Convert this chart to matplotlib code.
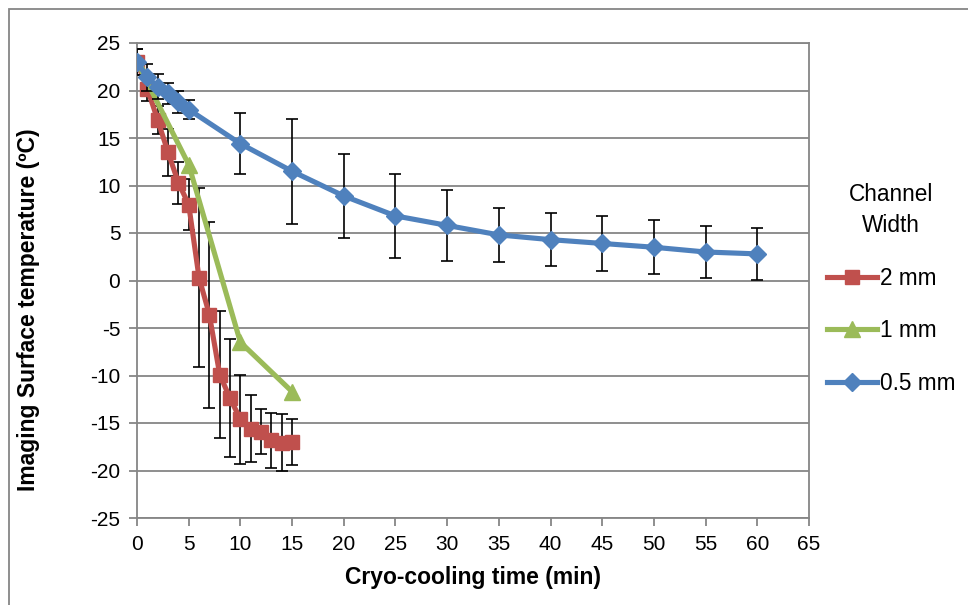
import matplotlib
matplotlib.use("Agg")
import matplotlib.pyplot as plt
from matplotlib.patches import Rectangle

plt.rcParams['font.family'] = ['Liberation Sans', 'DejaVu Sans']
plt.rcParams['axes.unicode_minus'] = False

# 2 mm channel
t_2mm = [0, 1, 2, 3, 4, 5, 6, 7, 8, 9, 10, 11, 12, 13, 14, 15]
T_2mm = [23.0, 20.2, 16.9, 13.5, 10.3, 8.0, 0.3, -3.6, -9.9, -12.4, -14.6, -15.6, -15.9, -16.8, -17.1, -17.0]
E_2mm = [1.4, 1.3, 1.5, 2.5, 2.2, 2.7, 9.4, 9.8, 6.7, 6.2, 4.7, 3.5, 2.4, 2.9, 3.0, 2.4]

# 1 mm channel
t_1mm = [0, 5, 10, 15]
T_1mm = [23.0, 12.2, -6.5, -11.7]

# 0.5 mm channel
t_05mm = [0, 1, 2, 3, 4, 5, 10, 15, 20, 25, 30, 35, 40, 45, 50, 55, 60]
T_05mm = [23.0, 21.4, 20.4, 19.7, 18.8, 18.0, 14.4, 11.5, 8.9, 6.8, 5.8, 4.8, 4.3, 3.9, 3.5, 3.0, 2.8]
E_05mm = [1.4, 1.4, 1.3, 1.1, 1.2, 1.0, 3.2, 5.5, 4.4, 4.4, 3.7, 2.85, 2.8, 2.85, 2.85, 2.75, 2.75]

labels = ['2 mm', '1 mm', '0.5 mm']
colors = ['#C0504D', '#9BBB59', '#4F81BD']

W, H = 968, 605
fig = plt.figure(figsize=(W / 100, H / 100), dpi=100)
ax = fig.add_axes([137 / W, 1 - 518 / H, (809 - 137) / W, (518 - 43) / H])

grey = '#868686'
ekw = dict(ecolor='black', elinewidth=1.2, capsize=4, capthick=1.2, fmt='none')

ax.errorbar(t_2mm, T_2mm, yerr=E_2mm, zorder=2, **ekw)
ax.plot(t_2mm, T_2mm, color=colors[0], lw=3.7, marker='s', ms=10.5, label=labels[0], zorder=3)
ax.plot(t_1mm, T_1mm, color=colors[1], lw=3.7, marker='^', ms=11.5, label=labels[1], zorder=4)
ax.errorbar(t_05mm, T_05mm, yerr=E_05mm, zorder=4.5, **ekw)
ax.plot(t_05mm, T_05mm, color=colors[2], lw=3.7, marker='D', ms=9, label=labels[2], zorder=5)

ax.set_xlim(0, 65)
ax.set_ylim(-25, 25)
ax.set_xticks(range(0, 66, 5))
ax.set_yticks(range(-25, 26, 5))
ax.yaxis.grid(True, color=grey, lw=1.3)
ax.set_axisbelow(True)
for s in ax.spines.values():
    s.set_color(grey)
    s.set_linewidth(1.3)
ax.tick_params(axis='both', direction='out', length=6, width=1.3, color=grey,
               labelsize=15, pad=6)

ax.set_xlabel('Cryo-cooling time (min)', fontsize=16.5, fontweight='bold', labelpad=9)
ax.set_ylabel('Imaging Surface temperature (ºC)', fontsize=16.5, fontweight='bold', labelpad=36)
ax.yaxis.label.set_y((518 - 310) / (518 - 43))

leg = ax.legend(loc='upper left', bbox_to_anchor=(816 / W, 1 - 172 / H),
                bbox_transform=fig.transFigure, frameon=False, fontsize=16.3,
                title='Channel\nWidth', title_fontsize=16.3, handlelength=2.2,
                handletextpad=0.12, labelspacing=1.3, borderpad=0,
                alignment='center')
leg.get_title().set_multialignment('center')
leg.get_title().set_linespacing(1.45)

fig.add_artist(Rectangle((9 / W, -0.2), 1.5, 1.2 - 9 / H, transform=fig.transFigure,
                         fill=False, edgecolor=grey, lw=1.3))

fig.savefig('out.png', dpi=100)
